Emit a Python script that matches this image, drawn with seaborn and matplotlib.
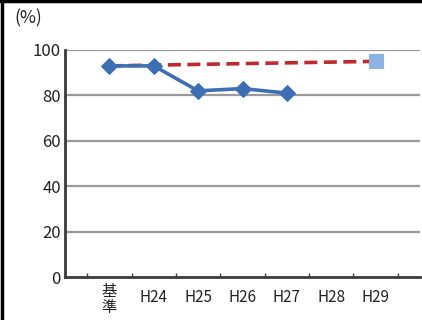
import matplotlib
matplotlib.use("Agg")
import matplotlib.pyplot as plt
from matplotlib.lines import Line2D
from matplotlib.transforms import ScaledTranslation
import seaborn as sns
import pandas as pd

categories = ["基準", "H24", "H25", "H26", "H27", "H28", "H29"]
tick_labels = ["基\n準", "H24", "H25", "H26", "H27", "H28", "H29"]

actual_years = ["基準", "H24", "H25", "H26", "H27"]
actual_values = [93, 93, 82, 83, 81]

target_years = ["基準", "H29"]
target_values = [93, 95]

goal_year = ["H29"]
goal_value = [95]

sns.set_theme(style="white")
plt.rcParams["font.family"] = ["Noto Sans CJK JP", "DejaVu Sans"]

pos = {c: i for i, c in enumerate(categories)}
actual = pd.DataFrame({"x": [pos[c] for c in actual_years], "y": actual_values})
target = pd.DataFrame({"x": [pos[c] for c in target_years], "y": target_values})
goal = pd.DataFrame({"x": [pos[c] for c in goal_year], "y": goal_value})

fig = plt.figure(figsize=(4.22, 3.20), dpi=100)
ax = fig.add_axes([65 / 422, 1 - 277 / 320, 355 / 422, 227 / 320])

for v in [20, 40, 60, 80, 100]:
    ax.axhline(v, color="#9a9a9a", lw=1.6, zorder=0)

sns.lineplot(data=target, x="x", y="y", ax=ax, color="#c0282d", lw=2.6,
             dashes=False, zorder=2)
ax.lines[-1].set_dashes([3.6, 1.8])
sns.scatterplot(data=goal, x="x", y="y", ax=ax, marker="s", s=105,
                color="#8db3e2", edgecolor="#8db3e2", zorder=3)
sns.lineplot(data=actual, x="x", y="y", ax=ax, color="#3c6fb4", lw=2.6,
             marker="D", markersize=8, markeredgecolor="#3c6fb4", zorder=4)

ax.set_xlim(-1, 7)
ax.set_ylim(0, 100)
ax.set_yticks([0, 20, 40, 60, 80, 100])
ax.set_xticks(range(len(categories)))
ax.set_xticklabels(tick_labels, fontsize=11, color="#222222", linespacing=0.95)
ax.set_xticks([i - 0.5 for i in range(len(categories) + 1)], minor=True)
ax.tick_params(axis="x", which="major", length=0, pad=9)
ax.tick_params(axis="x", which="minor", length=3, width=1, direction="in",
               color="#404040", bottom=True)
ax.tick_params(axis="y", length=0, pad=3, labelsize=12, labelcolor="#222222")
ax.set_xlabel("")
ax.set_ylabel("")

# lift the two-line label a little so it sits closer to the axis
first = ax.get_xticklabels()[0]
first.set_transform(first.get_transform() +
                    ScaledTranslation(0, 5 / 72, fig.dpi_scale_trans))

for side in ["top", "right"]:
    ax.spines[side].set_visible(False)
for side in ["left", "bottom"]:
    ax.spines[side].set_color("#3a3a3a")
    ax.spines[side].set_linewidth(2)

fig.text(14 / 422, 1 - 18 / 320, "(%)", fontsize=12.5, color="#222222",
         va="center", ha="left")

fig.add_artist(Line2D([1.5 / 422, 1.5 / 422], [0, 1], color="black", lw=2.5,
                      transform=fig.transFigure))
fig.add_artist(Line2D([0, 1], [1 - 1 / 320, 1 - 1 / 320], color="black", lw=2.5,
                      transform=fig.transFigure))

fig.savefig("out.png", dpi=100)
